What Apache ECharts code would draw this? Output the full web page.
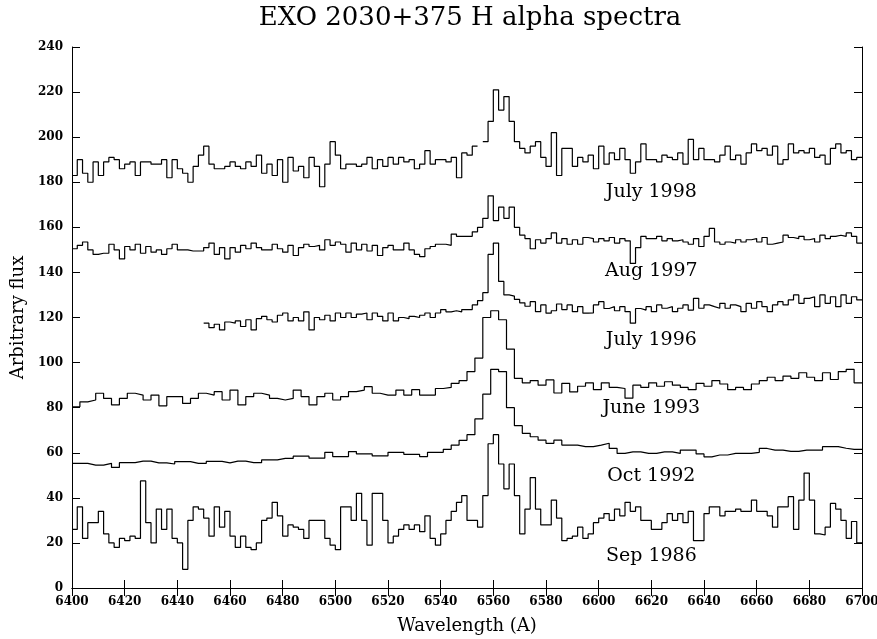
<!DOCTYPE html>
<html>
<head>
<meta charset="utf-8">
<script src="https://cdn.jsdelivr.net/npm/echarts@6/dist/echarts.min.js"></script>
<style>
html,body{margin:0;padding:0;background:#fff;}
#c{width:877px;height:639px;}
</style>
</head>
<body>
<div id="c"></div>
<script>
// ---- axis ranges / ticks ----
const wlMin = 6400, wlMax = 6700, wlTick = 20;
const fluxMin = 0, fluxMax = 240, fluxTick = 20;

// ---- spectra: start wavelength, bin width (A), flux per bin ----
const july1998Start = 6400, july1998Step = 2;
const july1998 = [
183,190,184,180,189,183,189,191,190,186,
188,189,183,189,189,188,188,190,182,190,
186,184,180,187,192,196,188,186,186,187,
189,187,186,189,187,192,184,188,183,190,
180,191,185,187,182,191,187,178,188,198,
192,186,188,188,187,188,191,186,190,187,
191,188,191,189,190,186,188,194,188,190,
190,189,191,182,193,192,196,null,198,207,
221,212,218,207,198,195,193,196,198,191,
187,202,183,195,195,187,191,189,192,186,
196,188,193,190,195,190,184,189,197,190,
190,189,192,191,190,193,188,199,190,195,
190,190,189,192,196,190,192,188,193,197,
194,195,192,196,188,190,197,193,194,193,
195,191,192,188,195,197,193,194,190,191
];

const aug1997Start = 6400, aug1997Step = 2;
const aug1997 = [
150.5,152,153.5,150,148,148.5,148.5,152.5,150,146,
151.5,150,152.5,148.5,151.5,149,150,148,150.5,152.5,
150,150,149.5,149.5,149.5,151,153,148,151,146,
151,149,152,150.5,153,151,150,150,152.5,150.5,
149,152,147.5,151,152.5,151.5,152,150,154.5,152,
153.5,152.5,149,153,150,152.5,149.5,152,147.5,151,
152,150,150,153,150,148,147,150.5,151.5,152.5,
152.5,152,157,156,156,156,158,160,164,174,
163,169,164,169,160,156.5,155,150.5,154.5,153,
155,157.5,153,155,152.5,154.5,152.5,155.5,155,153.5,
155,154,155.5,153,155,154,144,151,156,155,
155,156,154,155,154,154.5,153.5,152.5,155,151.5,
156,159.5,153.5,152.5,153.5,153,154.5,153.5,154.5,155,
153.5,155.5,152.5,153,153.5,156.5,155.5,155,156,154.5,
155,153.5,156.5,155,156,156.5,156,157.5,156,153
];

const july1996Start = 6450, july1996Step = 2;
const july1996 = [
117.5,115.5,117,114.5,118,117.5,118.5,116,119,114.5,
119.5,120.5,119,118,121,122,118.5,120,118.5,122.5,
114.5,120,119,121,118.5,122,120,122,120,121.5,
122,119,122,120.5,118.5,122,118.5,120,119.5,120.5,
120,121,122,120,122,123.5,122.5,123,122.5,123.5,
123.5,125.6,127.5,131,148,153,136,130,129.5,128,
126.5,125,127,122.6,125.6,121.9,123,126,123.5,125.6,
122.6,124.8,121.9,122,125.6,127,124,124.8,123,124.8,
122.6,117.5,124,123.3,124.8,122.6,125.6,124.1,124.8,122.6,
124.1,125.6,123.3,128.5,124.1,125.6,124.8,124.1,126.3,124.1,
125.6,124.8,122.6,126.3,124.1,127,124.8,122.6,125.6,127,
125.6,127.8,130,126.3,128.5,129.2,124.8,130,126.3,129.2,
124.8,130,126.3,129.2,127.8
];

const june1993Start = 6400, june1993Step = 3;
const june1993 = [
80.4,82.6,83.4,86.4,84.1,81.2,84.1,86.4,85.6,83.4,
85.6,80.8,84.9,84.9,81.9,84.1,86.4,85.6,87.1,83.4,
87.8,81.2,84.9,86.4,85.6,84.1,83.4,84.1,87.8,84.9,
81.2,84.9,86.4,83.4,84.9,87.1,87.8,89.3,86.4,85.6,
85.6,87.8,85.6,88,85.6,85.6,88.5,89,90.8,92,
96,102,120,123,119,106,93,91,92,90,
92.3,86.5,90.8,87,89.5,91,88,91,89,88.5,
84.2,90,89,91,89.5,91.5,90,89,88,90.8,
89.5,92,90.5,88,89,88,90.5,92,93.5,92,
94,93,95.5,93.5,92,95.5,92.5,96,97,91
];

const oct1992Start = 6400, oct1992Step = 3;
const oct1992 = [
55.3,55.3,54.5,54.5,55.3,53.5,55.6,55.6,56.3,56.3,
55.5,55.5,55.0,56.1,56.1,55.3,55.3,56.2,56.2,55.5,
56.3,56.3,55.6,55.6,56.8,56.8,57.5,57.5,58.5,58.5,
57.6,57.6,60.2,58.3,58.3,60.5,59.5,59.5,58.6,58.6,
60.2,60.2,59.3,59.3,58.3,60.2,60.2,61.5,63.4,65.5,
68,75,86,97,96,80,72,68.6,67.1,65.6,
64.2,65.6,63.4,63.4,62.7,62.7,63.4,64.2,61.9,59.7,
60.4,60.4,59.7,59.7,60.4,60.4,59.7,61.2,61.2,59.5,
58.2,59.0,59.0,59.7,59.7,59.7,60.2,61.9,61.2,61.2,
60.6,60.6,61.2,61.2,61.2,62.7,62.7,62.0,61.5,61.5
];

const sep1986Start = 6400, sep1986Step = 2;
const sep1986 = [
26,36,22,29,29,34,24,20,18,22,
21,23,22,47.5,29,20,35,26,35,22,
20,8.3,30,36,35,31,23,36,27,34,
23,18,23,18,17,20,30,31,38,32,
23,28,27,26,22,30,30,30,22,19,
17,36,36,30,42,30,19,42,42,30,
20,23,26,28,26,28,25,32,22,19,
24,30,34,38,41,30,30,27,41,64,
68,55,44,55,41,24,35,49,35,28,
28,39,31,21,22,23,27,22,24,29,
31,33,30,35,32,38,34,36,30,30,
26,26,29,33,30,33,29,34,21,21,
33,36,36,32,34,34,35,34,34,39,
34,34,32,27,36,36,40.5,26,39,51,
39,24,23.5,27,37.5,35,30,22,29.5,20
];

// ---- spectrum labels (data coordinates) ----
const labelNames = ['July 1998','Aug 1997','July 1996','June 1993','Oct 1992','Sep 1986'];
const labelWl    = [6620, 6620, 6620, 6620, 6620, 6620];
const labelFlux  = [175.5, 140.5, 110, 80, 49.5, 14];

const titleText = 'EXO 2030+375 H alpha spectra';
const xName = 'Wavelength (A)';
const yName = 'Arbitrary flux';

// ---- helpers ----
function histPoints(start, step, vals) {
  const pts = vals.map((v, i) => [start + step * i, v]);
  pts.push([start + step * vals.length, vals[vals.length - 1]]);
  return pts;
}
const spectra = [
  [july1998Start, july1998Step, july1998],
  [aug1997Start, aug1997Step, aug1997],
  [july1996Start, july1996Step, july1996],
  [june1993Start, june1993Step, june1993],
  [oct1992Start, oct1992Step, oct1992],
  [sep1986Start, sep1986Step, sep1986]
];

const serif = '"DejaVu Serif", "Liberation Serif", serif';
const axisLineStyle = {show: true, lineStyle: {color: '#000', width: 1}};
const tickStyle = {show: true, inside: true, length: 8, lineStyle: {color: '#000', width: 1}};

const series = spectra.map(s => ({
  type: 'line',
  step: 'end',
  data: histPoints(s[0], s[1], s[2]),
  showSymbol: false,
  symbol: 'none',
  connectNulls: false,
  silent: true,
  animation: false,
  lineStyle: {color: '#000', width: 1.2},
  xAxisIndex: 0,
  yAxisIndex: 0
}));

const chart = echarts.init(document.getElementById('c'), null, {renderer: 'canvas'});
chart.setOption({
  backgroundColor: '#fff',
  animation: false,
  grid: {left: 72, right: 15, top: 47, bottom: 51, containLabel: false, outerBoundsMode: 'none'},
  xAxis: [
    {
      type: 'value', min: wlMin, max: wlMax, interval: wlTick, position: 'bottom',
      axisLine: axisLineStyle, axisTick: tickStyle, splitLine: {show: false},
      axisLabel: {color: '#000', fontFamily: serif, fontWeight: 'bold', fontSize: 12, margin: 8,
                  formatter: v => String(v)},
      name: xName, nameLocation: 'middle', nameGap: 29,
      nameTextStyle: {color: '#000', fontFamily: serif, fontSize: 18}
    },
    {
      type: 'value', min: wlMin, max: wlMax, interval: wlTick, position: 'top',
      axisLine: axisLineStyle, axisTick: tickStyle, splitLine: {show: false},
      axisLabel: {show: false}
    }
  ],
  yAxis: [
    {
      type: 'value', min: fluxMin, max: fluxMax, interval: fluxTick, position: 'left',
      axisLine: axisLineStyle, axisTick: tickStyle, splitLine: {show: false},
      axisLabel: {color: '#000', fontFamily: serif, fontWeight: 'bold', fontSize: 12, margin: 9,
                  formatter: v => String(v)},
      name: yName, nameLocation: 'middle', nameGap: 39, nameRotate: 90,
      nameTextStyle: {color: '#000', fontFamily: serif, fontSize: 18}
    },
    {
      type: 'value', min: fluxMin, max: fluxMax, interval: fluxTick, position: 'right',
      axisLine: axisLineStyle, axisTick: tickStyle, splitLine: {show: false},
      axisLabel: {show: false}
    }
  ],
  series: series
});

// title and spectrum labels as real text, placed through the chart's scales
const graphics = [{
  type: 'text', x: 470, y: 18, silent: true,
  style: {text: titleText, fill: '#000', fontFamily: serif, fontSize: 26,
          align: 'center', verticalAlign: 'middle'}
}];
labelNames.forEach((n, i) => {
  const p = chart.convertToPixel({xAxisIndex: 0, yAxisIndex: 0}, [labelWl[i], labelFlux[i]]);
  graphics.push({
    type: 'text', x: p[0], y: p[1], silent: true,
    style: {text: n, fill: '#000', fontFamily: serif, fontSize: 19,
            align: 'center', verticalAlign: 'middle'}
  });
});
chart.setOption({graphic: graphics});
</script>
</body>
</html>
